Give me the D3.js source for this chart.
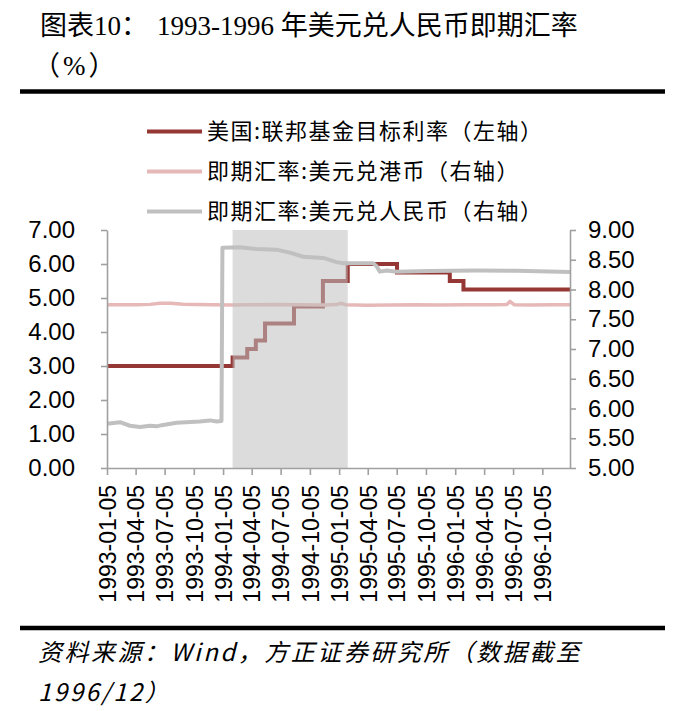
<!DOCTYPE html>
<html>
<head>
<meta charset="utf-8">
<script src="https://d3js.org/d3.v7.min.js"></script>
<style>
  body { margin: 0; background: #fff; }
  .axis path, .axis line { stroke: #a0a0a0; stroke-width: 1.6; }
  .axis text { font-family: "Liberation Sans", Arial, sans-serif; fill: #000; }
  .cjk { font-family: "Noto Sans CJK SC", sans-serif; fill: #000; }
</style>
</head>
<body>
<div id="chart"></div>
<script>
// 美国:联邦基金目标利率（左轴）, 阶梯数据
var fedDates = ["1993-01-05", "1994-02-04", "1994-03-22", "1994-04-18", "1994-05-17", "1994-08-16",
                "1994-11-15", "1995-02-01", "1995-07-06", "1995-12-19", "1996-01-31", "1996-12-31"];
var fedRates = [3.00, 3.25, 3.50, 3.75, 4.25, 4.75, 5.50, 6.00, 5.75, 5.50, 5.25, 5.25];

// 即期汇率:美元兑港币（右轴）
var hkdDates = ["1993-01-05", "1993-02-15", "1993-04-10", "1993-05-20", "1993-06-20", "1993-07-25",
                "1993-09-01", "1993-10-10", "1993-12-01", "1994-02-01", "1994-04-01", "1994-06-15",
                "1994-09-01", "1994-11-20", "1994-12-28", "1995-01-10", "1995-01-25", "1995-04-01",
                "1995-06-15", "1995-09-01", "1995-11-20", "1996-02-01", "1996-05-01", "1996-06-15",
                "1996-06-25", "1996-07-08", "1996-09-01", "1996-11-01", "1996-12-31"];
var hkdRates = [7.742, 7.744, 7.742, 7.750, 7.768, 7.768, 7.752, 7.746, 7.744, 7.740, 7.742, 7.748,
                7.742, 7.740, 7.746, 7.768, 7.745, 7.736, 7.740, 7.745, 7.740, 7.743, 7.742, 7.746,
                7.800, 7.744, 7.740, 7.744, 7.742];

// 即期汇率:美元兑人民币（右轴）
var cnyDates = ["1993-01-05", "1993-02-15", "1993-03-18", "1993-04-19", "1993-05-20", "1993-06-10",
                "1993-06-26", "1993-08-12", "1993-10-24", "1993-11-25", "1993-12-16", "1993-12-31",
                "1994-01-03", "1994-02-27", "1994-04-20", "1994-06-22", "1994-08-03", "1994-09-14",
                "1994-11-16", "1994-12-28", "1995-01-18", "1995-04-22", "1995-05-03", "1995-05-13",
                "1995-06-04", "1995-07-05", "1995-10-18", "1996-03-13", "1996-07-16", "1996-12-31"];
var cnyRates = [5.745, 5.770, 5.710, 5.690, 5.710, 5.700, 5.720, 5.760, 5.780, 5.800, 5.780, 5.790,
                8.700, 8.710, 8.680, 8.670, 8.620, 8.550, 8.530, 8.460, 8.440, 8.440, 8.390, 8.300,
                8.320, 8.300, 8.310, 8.320, 8.315, 8.295];

// 阴影区间（加息周期）
var shadeDates = ["1994-02-04", "1995-02-01"];

// 坐标轴刻度
var xTickLabels = ["1993-01-05", "1993-04-05", "1993-07-05", "1993-10-05", "1994-01-05", "1994-04-05",
                   "1994-07-05", "1994-10-05", "1995-01-05", "1995-04-05", "1995-07-05", "1995-10-05",
                   "1996-01-05", "1996-04-05", "1996-07-05", "1996-10-05"];
var leftTicks = [0, 1, 2, 3, 4, 5, 6, 7];
var rightTicks = [5, 5.5, 6, 6.5, 7, 7.5, 8, 8.5, 9];

var legendNames = ["美国:联邦基金目标利率（左轴）", "即期汇率:美元兑港币（右轴）", "即期汇率:美元兑人民币（右轴）"];
var colors = ["#953735", "#e6b9b8", "#c0c0c0"];

var parseDate = d3.timeParse("%Y-%m-%d");

var svg = d3.select("#chart")
        .append("svg")
        .attr("width", 681)
        .attr("height", 711);

// 标题
var title = svg.append("text")
        .attr("class", "cjk")
        .attr("y", 35)
        .style("font-size", "27px")
        .style("font-family", "'Liberation Serif', 'Noto Sans CJK SC', serif");
title.append("tspan").attr("x", 40).text("图表10：");
title.append("tspan").attr("x", 157).text("1993-1996 年美元兑人民币即期汇率");

svg.append("text")
        .attr("class", "cjk")
        .attr("x", 33)
        .attr("y", 75)
        .style("font-size", "27px")
        .style("letter-spacing", "3px")
        .style("font-family", "'Liberation Serif', 'Noto Sans CJK SC', serif")
        .text("（%）");

// 上下粗线
svg.append("line")
        .attr("x1", 20).attr("x2", 665)
        .attr("y1", 91.5).attr("y2", 91.5)
        .attr("stroke", "#000").attr("stroke-width", 4.5);
svg.append("line")
        .attr("x1", 20).attr("x2", 665)
        .attr("y1", 628).attr("y2", 628)
        .attr("stroke", "#000").attr("stroke-width", 4.5);

// scales
var x = d3.scaleTime()
        .domain([parseDate("1993-01-05"), parseDate("1996-12-31")])
        .range([107, 570]);
var yLeft = d3.scaleLinear()
        .domain([0, 7])
        .range([468, 230]);
var yRight = d3.scaleLinear()
        .domain([5, 9])
        .range([468, 230]);

// 折线
var fedLine = d3.line()
        .x(function(d) { return x(parseDate(d[0])); })
        .y(function(d) { return yLeft(d[1]); })
        .curve(d3.curveStepAfter);
var fxLine = d3.line()
        .x(function(d) { return x(parseDate(d[0])); })
        .y(function(d) { return yRight(d[1]); });

svg.append("path")
        .datum(d3.zip(fedDates, fedRates))
        .attr("fill", "none")
        .attr("stroke", colors[0])
        .attr("stroke-width", 4)
        .attr("d", fedLine);

svg.append("path")
        .datum(d3.zip(hkdDates, hkdRates))
        .attr("fill", "none")
        .attr("stroke", colors[1])
        .attr("stroke-width", 3.5)
        .attr("stroke-linejoin", "round")
        .attr("d", fxLine);

svg.append("path")
        .datum(d3.zip(cnyDates, cnyRates))
        .attr("fill", "none")
        .attr("stroke", colors[2])
        .attr("stroke-width", 4)
        .attr("stroke-linejoin", "round")
        .attr("d", fxLine);

// 阴影（半透明覆盖在线上）
svg.append("rect")
        .attr("x", x(parseDate(shadeDates[0])))
        .attr("width", x(parseDate(shadeDates[1])) - x(parseDate(shadeDates[0])))
        .attr("y", yLeft(7))
        .attr("height", yLeft(0) - yLeft(7))
        .attr("fill", "#bfbfbf")
        .attr("opacity", 0.55);

// Add the X Axis
var xAxis = svg.append("g")
        .attr("class", "axis")
        .attr("transform", "translate(0," + yLeft(0) + ")")
        .call(d3.axisBottom(x)
          .tickValues(xTickLabels.map(parseDate))
          .tickFormat(d3.timeFormat("%Y-%m-%d"))
          .tickSize(7)
          .tickSizeOuter(0));
xAxis.selectAll("text")
        .attr("transform", "rotate(-90)")
        .attr("x", -17)
        .attr("y", 0)
        .attr("dy", "0.36em")
        .style("text-anchor", "end")
        .style("font-size", "23px");

// Add the left Y Axis
svg.append("g")
        .attr("class", "axis")
        .attr("transform", "translate(" + x.range()[0] + ",0)")
        .call(d3.axisLeft(yLeft)
          .tickValues(leftTicks)
          .tickFormat(d3.format(".2f"))
          .tickSize(6)
          .tickSizeOuter(0)
          .tickPadding(26))
        .selectAll("text")
        .style("font-size", "24px");

// Add the right Y Axis
svg.append("g")
        .attr("class", "axis")
        .attr("transform", "translate(" + x.range()[1] + ",0)")
        .call(d3.axisRight(yRight)
          .tickValues(rightTicks)
          .tickFormat(d3.format(".2f"))
          .tickSize(6)
          .tickSizeOuter(0)
          .tickPadding(12))
        .selectAll("text")
        .style("font-size", "24px");

// 图例
var legend = svg.append("g")
        .selectAll("g")
        .data(legendNames)
        .enter()
        .append("g")
        .attr("transform", function(d, i) { return "translate(147," + (131.5 + i * 40) + ")"; });
legend.append("line")
        .attr("x1", 0).attr("x2", 55)
        .attr("stroke", function(d, i) { return colors[i]; })
        .attr("stroke-width", 4);
legend.append("text")
        .attr("class", "cjk")
        .attr("x", 60)
        .attr("dy", "0.36em")
        .style("font-size", "22px")
        .style("letter-spacing", "1.5px")
        .text(function(d) { return d; });

// 资料来源
var source = svg.append("text")
        .attr("class", "cjk")
        .style("font-size", "24px")
        .style("font-style", "italic")
        .style("letter-spacing", "2.5px");
source.append("tspan").attr("x", 38).attr("y", 661).text("资料来源：Wind，方正证券研究所（数据截至");
source.append("tspan").attr("x", 38).attr("y", 701).text("1996/12）");
</script>
</body>
</html>
